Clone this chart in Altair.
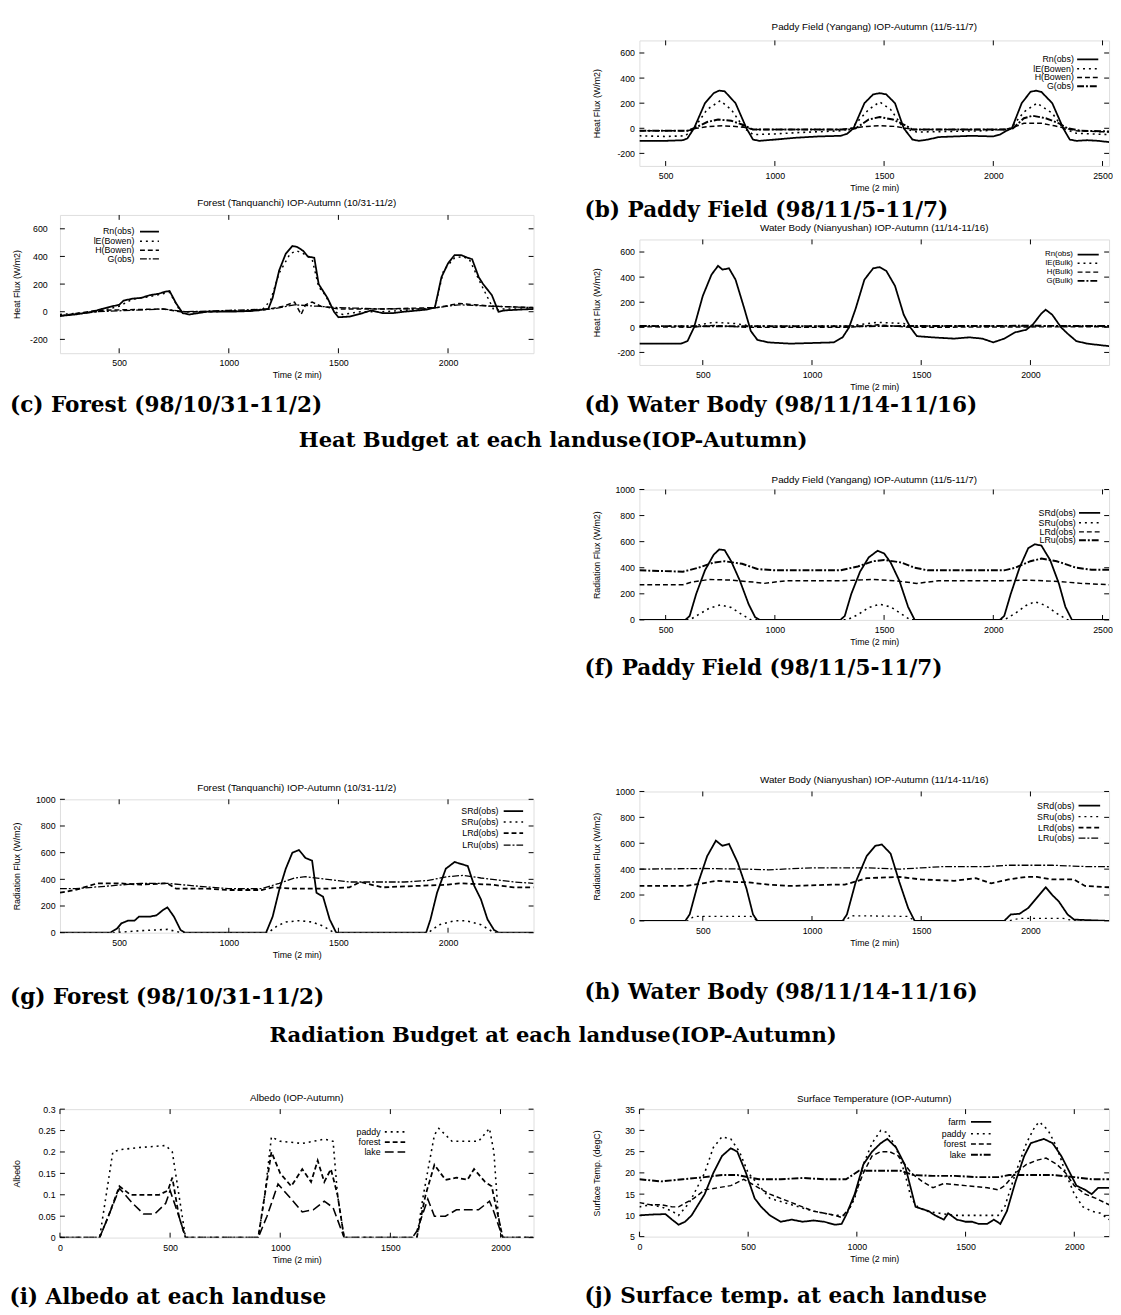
import altair as alt
import pandas as pd

SANS = "Liberation Sans"
SERIF = "DejaVu Serif"
CAP = 22
SEC = 21.5

# ---------------- data ----------------
b_rn_t = [380, 500, 580, 600, 630, 680, 720, 745, 770, 820, 870, 900, 930, 1000, 1100, 1200, 1300, 1330, 1360, 1410, 1450, 1480, 1510, 1550, 1590, 1630, 1660, 1700, 1750, 1900, 2000, 2030, 2060, 2085, 2130, 2170, 2195, 2220, 2270, 2320, 2350, 2380, 2430, 2480, 2530]
b_rn_v = [-100, -100, -95, -80, 0, 200, 280, 300, 295, 200, 0, -90, -100, -90, -75, -65, -60, -45, 0, 200, 270, 280, 270, 200, 0, -90, -100, -90, -70, -60, -65, -50, -20, 0, 200, 290, 300, 290, 200, 0, -90, -100, -95, -100, -110]
b_le_t = [380, 500, 590, 630, 690, 750, 800, 860, 900, 1000, 1100, 1300, 1350, 1430, 1480, 1530, 1590, 1650, 1800, 1950, 2050, 2080, 2140, 2200, 2270, 2320, 2380, 2450, 2530]
b_le_v = [-60, -65, -60, 0, 150, 220, 150, 0, -50, -45, -35, -20, 0, 150, 210, 150, 0, -30, -25, -20, -10, 0, 130, 200, 120, 0, -40, -45, -50]
b_h_t = [380, 600, 640, 700, 760, 820, 870, 900, 1000, 1300, 1350, 1420, 1480, 1550, 1600, 1640, 1800, 2050, 2080, 2140, 2220, 2280, 2330, 2380, 2530]
b_h_v = [-20, -20, 0, 15, 20, 15, 5, -10, -10, -10, 0, 15, 20, 15, 0, -10, -10, -10, 0, 40, 40, 20, 0, -20, -30]
b_g_t = [380, 600, 630, 690, 740, 800, 850, 900, 1000, 1340, 1370, 1430, 1480, 1540, 1590, 1630, 1800, 2060, 2090, 2140, 2180, 2240, 2300, 2340, 2400, 2530]
b_g_v = [-20, -20, 0, 50, 70, 60, 30, -10, -10, -10, 0, 70, 90, 70, 30, -10, -10, -10, 0, 80, 100, 80, 40, 0, -20, -25]

c_rn_t = [230, 300, 380, 420, 470, 500, 520, 560, 600, 640, 680, 710, 730, 760, 790, 820, 900, 1000, 1100, 1180, 1200, 1230, 1260, 1290, 1310, 1340, 1360, 1390, 1410, 1430, 1450, 1480, 1500, 1550, 1600, 1650, 1700, 1750, 1800, 1900, 1940, 1970, 2000, 2030, 2060, 2090, 2110, 2140, 2160, 2200, 2230, 2260, 2390]
c_rn_v = [-30, -20, 0, 20, 40, 50, 80, 95, 100, 120, 130, 145, 150, 60, -10, -20, 0, 0, 5, 20, 100, 300, 420, 475, 470, 440, 400, 390, 200, 150, 100, 0, -40, -35, -15, 10, -10, -10, 0, 15, 30, 250, 350, 410, 410, 390, 380, 250, 200, 120, 0, 10, 20]
c_le_t = [230, 400, 500, 560, 640, 700, 730, 780, 900, 1150, 1190, 1230, 1280, 1310, 1340, 1380, 1410, 1440, 1480, 1520, 1600, 1700, 1800, 1940, 1980, 2030, 2070, 2100, 2150, 2210, 2250, 2390]
c_le_v = [-20, 0, 40, 90, 110, 130, 140, 0, 0, 10, 80, 280, 420, 440, 420, 380, 180, 120, 0, -20, 0, 0, 10, 30, 300, 390, 400, 370, 200, 10, 20, 20]
c_h_t = [230, 400, 700, 780, 900, 1150, 1250, 1300, 1330, 1350, 1380, 1420, 1500, 1700, 1950, 2050, 2200, 2390]
c_h_v = [-30, 10, 20, 0, 0, 10, 40, 70, -20, 50, 70, 40, 20, 20, 30, 60, 40, 30]
c_g_t = [230, 400, 700, 800, 1000, 1200, 1300, 1400, 1500, 1700, 1900, 2050, 2200, 2390]
c_g_v = [-30, 0, 20, 0, 10, 20, 50, 40, 30, 20, 20, 50, 40, 30]

d_rn_t = [210, 400, 430, 460, 500, 540, 570, 590, 620, 650, 690, 720, 750, 800, 900, 1000, 1100, 1140, 1170, 1200, 1240, 1280, 1310, 1340, 1380, 1420, 1450, 1480, 1550, 1650, 1720, 1780, 1830, 1880, 1930, 1980, 2010, 2050, 2070, 2100, 2140, 2170, 2210, 2260, 2310, 2360]
d_rn_v = [-130, -130, -110, 0, 250, 420, 490, 460, 470, 380, 150, -30, -100, -120, -130, -125, -120, -80, 0, 150, 380, 470, 480, 450, 330, 100, 0, -70, -80, -90, -80, -90, -120, -90, -40, -20, 20, 110, 140, 100, 0, -50, -110, -130, -140, -150]
d_le_t = [210, 450, 550, 650, 720, 1170, 1300, 1420, 1450, 2360]
d_le_v = [10, 10, 40, 30, 10, 10, 40, 30, 10, 10]
d_h_t = [210, 450, 550, 700, 1170, 1300, 1450, 2360]
d_h_v = [5, 0, 15, 0, 0, 20, 0, 5]
d_g_t = [210, 800, 1500, 2000, 2360]
d_g_v = [10, 8, 10, 12, 10]

f_srd_t = [380, 590, 610, 640, 680, 720, 745, 770, 800, 840, 880, 910, 930, 1300, 1320, 1350, 1390, 1430, 1470, 1500, 1530, 1570, 1610, 1640, 2030, 2050, 2080, 2120, 2160, 2190, 2220, 2260, 2300, 2330, 2360, 2530]
f_srd_v = [0, 0, 30, 200, 380, 500, 540, 535, 450, 300, 120, 20, 0, 0, 30, 200, 370, 480, 530, 510, 440, 300, 100, 0, 0, 30, 200, 400, 550, 580, 570, 460, 280, 100, 0, 0]
f_sru_t = [380, 610, 650, 700, 750, 800, 850, 890, 1330, 1380, 1430, 1480, 1530, 1580, 1620, 2050, 2100, 2150, 2190, 2240, 2290, 2340, 2530]
f_sru_v = [0, 0, 40, 90, 115, 95, 40, 0, 0, 40, 95, 120, 100, 45, 0, 0, 50, 110, 140, 110, 50, 0, 0]
f_lrd_t = [380, 580, 620, 700, 800, 900, 950, 1050, 1300, 1450, 1550, 1650, 1750, 2050, 2150, 2300, 2400, 2530]
f_lrd_v = [270, 270, 290, 310, 305, 290, 280, 300, 300, 310, 300, 280, 300, 300, 305, 295, 280, 270]
f_lru_t = [380, 580, 650, 720, 770, 850, 920, 1000, 1300, 1380, 1450, 1500, 1580, 1640, 1700, 2050, 2100, 2170, 2220, 2290, 2380, 2450, 2530]
f_lru_v = [380, 370, 400, 440, 450, 430, 390, 380, 380, 410, 450, 460, 440, 400, 380, 380, 400, 450, 470, 450, 400, 385, 385]

g_srd_t = [230, 460, 490, 510, 540, 570, 590, 640, 670, 700, 720, 750, 780, 800, 1170, 1200, 1230, 1260, 1290, 1320, 1350, 1380, 1400, 1430, 1460, 1490, 1900, 1920, 1950, 1990, 2030, 2070, 2090, 2120, 2150, 2180, 2210, 2230, 2390]
g_srd_v = [0, 0, 30, 70, 90, 90, 120, 120, 130, 170, 190, 120, 20, 0, 0, 120, 320, 480, 600, 620, 560, 540, 300, 270, 100, 0, 0, 100, 300, 480, 530, 510, 500, 350, 250, 100, 20, 0, 0]
g_sru_t = [230, 480, 600, 720, 780, 1180, 1220, 1260, 1320, 1380, 1430, 1480, 1910, 1960, 2030, 2080, 2150, 2210, 2390]
g_sru_v = [0, 0, 15, 25, 0, 0, 50, 80, 90, 80, 50, 0, 0, 60, 90, 90, 60, 0, 0]
g_lrd_t = [230, 300, 400, 500, 600, 720, 760, 900, 1000, 1150, 1200, 1300, 1450, 1550, 1600, 1700, 1850, 2000, 2050, 2200, 2300, 2390]
g_lrd_v = [300, 320, 370, 370, 360, 370, 330, 330, 320, 320, 340, 330, 330, 340, 380, 340, 350, 360, 370, 360, 340, 340]
g_lru_t = [230, 300, 450, 600, 720, 850, 1000, 1150, 1230, 1300, 1350, 1450, 1550, 1650, 1800, 1900, 2000, 2070, 2150, 2300, 2390]
g_lru_v = [330, 330, 350, 370, 370, 350, 330, 330, 370, 410, 420, 400, 380, 380, 380, 390, 420, 430, 410, 380, 370]

h_srd_t = [210, 420, 440, 480, 520, 560, 590, 620, 660, 700, 730, 750, 1140, 1160, 1200, 1250, 1290, 1320, 1360, 1400, 1440, 1470, 1880, 1910, 1950, 1990, 2040, 2070, 2100, 2130, 2170, 2200, 2360]
h_srd_v = [0, 0, 50, 300, 500, 620, 580, 595, 450, 250, 50, 0, 0, 50, 300, 500, 580, 590, 520, 300, 100, 0, 0, 50, 55, 100, 200, 260, 200, 150, 50, 10, 0]
h_sru_t = [210, 430, 460, 720, 750, 1150, 1180, 1440, 1470, 1900, 1950, 2150, 2200, 2360]
h_sru_v = [0, 0, 35, 35, 0, 0, 40, 35, 0, 0, 20, 20, 0, 0]
h_lrd_t = [210, 420, 500, 560, 650, 700, 800, 900, 1100, 1150, 1250, 1400, 1500, 1650, 1750, 1820, 1900, 1980, 2030, 2100, 2200, 2250, 2360]
h_lrd_v = [270, 270, 290, 310, 300, 300, 280, 270, 280, 280, 330, 340, 320, 310, 330, 290, 320, 340, 340, 320, 320, 270, 260]
h_lru_t = [210, 500, 700, 800, 1000, 1250, 1400, 1500, 1600, 1800, 1900, 2100, 2250, 2360]
h_lru_v = [400, 405, 400, 395, 410, 410, 400, 410, 420, 420, 430, 430, 420, 420]

i_paddy_t = [0, 180, 210, 240, 270, 350, 480, 510, 540, 570, 900, 930, 960, 1000, 1100, 1200, 1240, 1260, 1290, 1620, 1650, 1700, 1720, 1780, 1900, 1950, 1970, 1990, 2010, 2150]
i_paddy_v = [0, 0, 0.1, 0.2, 0.205, 0.21, 0.215, 0.2, 0.1, 0, 0, 0.1, 0.235, 0.225, 0.22, 0.23, 0.225, 0.1, 0, 0, 0.1, 0.24, 0.255, 0.225, 0.225, 0.255, 0.2, 0.05, 0, 0]
i_forest_t = [0, 180, 220, 270, 320, 450, 490, 510, 540, 570, 900, 930, 960, 1000, 1050, 1100, 1140, 1170, 1200, 1230, 1260, 1290, 1620, 1660, 1700, 1750, 1800, 1850, 1880, 1930, 1960, 2010, 2150]
i_forest_v = [0, 0, 0.05, 0.12, 0.1, 0.1, 0.11, 0.14, 0.05, 0, 0, 0.1, 0.2, 0.15, 0.12, 0.16, 0.13, 0.18, 0.13, 0.16, 0.1, 0, 0, 0.1, 0.17, 0.135, 0.14, 0.135, 0.16, 0.13, 0.12, 0, 0]
i_lake_t = [0, 180, 220, 270, 330, 380, 430, 480, 500, 540, 570, 900, 940, 990, 1050, 1100, 1150, 1200, 1240, 1290, 1600, 1620, 1670, 1700, 1750, 1800, 1900, 1950, 1970, 2010, 2150]
i_lake_v = [0, 0, 0.05, 0.115, 0.08, 0.055, 0.055, 0.08, 0.11, 0.05, 0, 0, 0.05, 0.125, 0.09, 0.06, 0.065, 0.085, 0.07, 0, 0, 0.015, 0.09, 0.05, 0.05, 0.065, 0.065, 0.085, 0.06, 0, 0]

j_farm_t = [0, 60, 120, 150, 180, 210, 240, 300, 340, 380, 420, 450, 490, 530, 560, 600, 650, 700, 750, 800, 850, 900, 930, 950, 990, 1030, 1070, 1110, 1140, 1180, 1220, 1250, 1270, 1300, 1330, 1360, 1400, 1420, 1460, 1500, 1530, 1560, 1600, 1630, 1660, 1690, 1730, 1770, 1800, 1860, 1900, 1940, 1980, 2010, 2050, 2080, 2110, 2160]
j_farm_v = [10, 10.2, 10.3, 9, 7.8, 8.5, 10, 15, 20, 24, 25.8, 25, 20, 14, 12, 10, 8.5, 9, 8.5, 8.8, 8.5, 7.8, 8, 10, 15, 22, 25, 27, 28, 26, 22, 16, 12, 11.5, 11, 10, 9, 10.5, 9, 8.5, 8.5, 8, 8, 9, 8, 11, 18, 24, 27, 28, 27, 24, 20, 17, 16, 15, 16.5, 16.5]
j_paddy_t = [0, 50, 100, 150, 180, 230, 300, 340, 380, 420, 460, 500, 550, 600, 700, 800, 900, 950, 990, 1030, 1070, 1110, 1140, 1180, 1220, 1250, 1280, 1320, 1380, 1450, 1550, 1650, 1680, 1730, 1780, 1820, 1840, 1880, 1920, 1960, 2000, 2040, 2080, 2120, 2160]
j_paddy_v = [12, 12.5, 12, 11, 10, 13, 20, 26, 28.5, 28, 25, 20, 17, 14, 12.5, 11, 10, 10, 14, 22, 27, 30, 29.5, 26, 20, 14, 12, 11, 10.5, 10, 10, 10, 12, 20, 27, 31, 32, 30, 26, 20, 15, 12, 11, 10.5, 9]
j_forest_t = [0, 50, 100, 150, 180, 250, 300, 360, 420, 480, 530, 600, 700, 800, 900, 930, 970, 1030, 1070, 1110, 1150, 1190, 1250, 1300, 1350, 1400, 1500, 1600, 1650, 1680, 1730, 1780, 1830, 1870, 1920, 1960, 2000, 2050, 2100, 2160]
j_forest_v = [13, 12.5, 12.5, 12, 12, 14, 16, 16.5, 17, 18.5, 17, 15, 13, 11, 10, 9.5, 12, 20, 24, 25, 25, 24, 20, 18, 16.5, 17.5, 17, 16.5, 16, 17, 20, 22, 23, 23.5, 22, 20, 17, 15, 14, 12.5]
j_lake_t = [0, 100, 200, 300, 380, 450, 550, 650, 750, 850, 950, 1010, 1100, 1200, 1260, 1350, 1450, 1550, 1650, 1700, 1800, 1900, 2000, 2080, 2160]
j_lake_v = [18.5, 18, 18.5, 19, 19.5, 19.5, 18.5, 18.5, 18.8, 18.5, 18.5, 20.5, 20.5, 20.5, 19.5, 19.3, 19.3, 19, 19, 19.5, 19.5, 19.5, 19, 18.5, 18.5]

x_ticks_paddy = [500, 1000, 1500, 2000, 2500]
x_ticks_site = [500, 1000, 1500, 2000]
x_ticks_all = [0, 500, 1000, 1500, 2000]
y_ticks_heat = [-200, 0, 200, 400, 600]
y_ticks_rad = [0, 200, 400, 600, 800, 1000]
y_ticks_alb = [0, 0.05, 0.1, 0.15, 0.2, 0.25, 0.3]
y_ticks_tmp = [5, 10, 15, 20, 25, 30, 35]

heat_b_names = ["Rn(obs)", "lE(Bowen)", "H(Bowen)", "G(obs)"]
heat_d_names = ["Rn(obs)", "lE(Bulk)", "H(Bulk)", "G(Bulk)"]
rad_names = ["SRd(obs)", "SRu(obs)", "LRd(obs)", "LRu(obs)"]
alb_names = ["paddy", "forest", "lake"]
tmp_names = ["farm", "paddy", "forest", "lake"]

sec_heat = "Heat Budget at each landuse(IOP-Autumn)"
sec_rad = "Radiation Budget at each landuse(IOP-Autumn)"

SOLID = [1, 0]
DOT = [2, 4]
DASH = [5, 3]
DASHDOT = [7, 2, 2, 2]
LONG = [9, 4]


def panel(p):
    W, H = p["w"], p["h"]
    xs = alt.Scale(domain=p["xdom"], nice=False, zero=False)
    ys = alt.Scale(domain=p["ydom"], nice=False, zero=False)
    xaxis = alt.Axis(values=p["xt"], title="Time (2 min)", labelExpr="'' + datum.value",
                     labelPadding=6, titlePadding=3, labelFlush=False, labelOverlap=False,
                     ticks=False, domain=False, grid=False,
                     labelFont=SANS, labelFontSize=9, labelColor="black",
                     titleFont=SANS, titleFontSize=9, titleFontWeight="normal", titleColor="black")
    yaxis = alt.Axis(values=p["yt"], title=p["ytitle"], labelExpr="'' + datum.value",
                     labelPadding=p.get("lpad", 5), titlePadding=p["tpad"], labelFlush=False,
                     labelOverlap=False, ticks=False, domain=False, grid=False,
                     labelFont=SANS, labelFontSize=9, labelColor="black",
                     titleFont=SANS, titleFontSize=9, titleFontWeight="normal", titleColor="black")
    X = lambda f: alt.X(f, scale=xs, axis=xaxis)
    Y = lambda f: alt.Y(f, scale=ys, axis=yaxis)
    layers = []
    for k, (t, v, dash, sw) in enumerate(p["series"]):
        df = pd.DataFrame({"t": t, "v": v})
        layers.append(
            alt.Chart(df).mark_line(clip=True, color="black", strokeWidth=sw, strokeDash=dash).encode(
                x=X("t:Q"), y=Y("v:Q"), order="t:Q")
        )
    dx = pd.DataFrame({"t": p["xt"]})
    dy = pd.DataFrame({"v": p["yt"]})
    L = 5
    layers.append(alt.Chart(dx).mark_rule(color="black", strokeWidth=1).encode(
        x=X("t:Q"), y=alt.value(H), y2=alt.value(H - L)))
    layers.append(alt.Chart(dx).mark_rule(color="black", strokeWidth=1).encode(
        x=X("t:Q"), y=alt.value(0), y2=alt.value(L)))
    layers.append(alt.Chart(dy).mark_rule(color="black", strokeWidth=1).encode(
        y=Y("v:Q"), x=alt.value(0), x2=alt.value(L)))
    layers.append(alt.Chart(dy).mark_rule(color="black", strokeWidth=1).encode(
        y=Y("v:Q"), x=alt.value(W - L), x2=alt.value(W)))
    layers.append(alt.Chart(pd.DataFrame({"s": [p["title"]]})).mark_text(
        font=SANS, fontSize=10, color="black", align="center", baseline="middle").encode(
        text="s:N", x=alt.value(W / 2), y=alt.value(-p["tdy"])))
    ft, l1, l2 = p["key_x"]
    for k, name in enumerate(p["names"]):
        yy = p["key_rows"][k] * H
        dash, sw = p["series"][k][2], p["series"][k][3]
        dn = pd.DataFrame({"s": [name]})
        layers.append(alt.Chart(dn).mark_text(
            font=SANS, fontSize=p.get("kfs", 9), color="black", align="right", baseline="middle").encode(
            text="s:N", x=alt.value(ft * W), y=alt.value(yy)))
        layers.append(alt.Chart(dn).mark_rule(color="black", strokeWidth=sw, strokeDash=dash).encode(
            x=alt.value(l1 * W), x2=alt.value(l2 * W), y=alt.value(yy)))
    return alt.layer(*layers).properties(
        width=W, height=H,
        title=alt.TitleParams(text=p["cap"], orient="bottom", anchor="start", frame="bounds",
                              font=SERIF, fontSize=CAP, fontWeight="bold", color="black",
                              offset=p["capoff"], dx=p.get("capdx", -3)),
    )


def spacer(h, w=100):
    return alt.Chart(pd.DataFrame({"s": [""]})).mark_text().encode(text="s:N").properties(
        width=w, height=h, view=alt.ViewBackground(stroke="transparent"))


def section(text, h, ty):
    return alt.Chart(pd.DataFrame({"s": [text]})).mark_text(
        font=SERIF, fontSize=SEC, fontWeight="bold", color="black", align="center", baseline="middle"
    ).encode(text="s:N", x=alt.value(503), y=alt.value(ty)).properties(
        width=1000, height=h, view=alt.ViewBackground(stroke="transparent"))


WL, WR = 483, 479

pb = panel(dict(w=WR, h=128, xdom=[380, 2530], ydom=[-300, 700], xt=x_ticks_paddy, yt=y_ticks_heat,
                ytitle="Heat Flux (W/m2)", tpad=16, tdy=14, capdx=-8,
                series=[(b_rn_t, b_rn_v, SOLID, 1.8), (b_le_t, b_le_v, DOT, 1.6),
                        (b_h_t, b_h_v, DASH, 1.5), (b_g_t, b_g_v, DASHDOT, 2.0)],
                names=heat_b_names, key_x=(0.925, 0.932, 0.977), key_rows=[0.15, 0.225, 0.295, 0.365],
                title="Paddy Field (Yangang) IOP-Autumn (11/5-11/7)",
                cap="(b) Paddy Field (98/11/5-11/7)", capoff=8))

pc = panel(dict(w=WL, h=141, xdom=[230, 2390], ydom=[-300, 700], xt=x_ticks_site, yt=y_ticks_heat,
                ytitle="Heat Flux (W/m2)", lpad=13, tpad=8, tdy=12,
                series=[(c_rn_t, c_rn_v, SOLID, 1.8), (c_le_t, c_le_v, DOT, 1.5),
                        (c_h_t, c_h_v, DASH, 1.5), (c_g_t, c_g_v, DASHDOT, 1.3)],
                names=heat_b_names, key_x=(0.157, 0.169, 0.209), key_rows=[0.12, 0.19, 0.256, 0.318],
                title="Forest (Tanquanchi) IOP-Autumn (10/31-11/2)",
                cap="(c) Forest (98/10/31-11/2)", capoff=16))

pd_ = panel(dict(w=WR, h=128, xdom=[210, 2360], ydom=[-300, 700], xt=x_ticks_site, yt=y_ticks_heat,
                 ytitle="Heat Flux (W/m2)", tpad=16, tdy=12, kfs=8, capdx=-8,
                 series=[(d_rn_t, d_rn_v, SOLID, 1.8), (d_le_t, d_le_v, DOT, 1.5),
                         (d_h_t, d_h_v, DASH, 1.4), (d_g_t, d_g_v, DASHDOT, 2.0)],
                 names=heat_d_names, key_x=(0.923, 0.933, 0.978), key_rows=[0.12, 0.19, 0.26, 0.33],
                 title="Water Body (Nianyushan) IOP-Autumn (11/14-11/16)",
                 cap="(d) Water Body (98/11/14-11/16)", capoff=4))

pf = panel(dict(w=WR, h=133, xdom=[380, 2530], ydom=[0, 1000], xt=x_ticks_paddy, yt=y_ticks_rad,
                ytitle="Radiation Flux (W/m2)", tpad=14, tdy=10, capdx=-8,
                series=[(f_srd_t, f_srd_v, SOLID, 1.8), (f_sru_t, f_sru_v, DOT, 1.6),
                        (f_lrd_t, f_lrd_v, DASH, 1.5), (f_lru_t, f_lru_v, DASHDOT, 2.0)],
                names=rad_names, key_x=(0.929, 0.936, 0.981), key_rows=[0.18, 0.255, 0.325, 0.39],
                title="Paddy Field (Yangang) IOP-Autumn (11/5-11/7)",
                cap="(f) Paddy Field (98/11/5-11/7)", capoff=12))

pg = panel(dict(w=WL, h=136, xdom=[230, 2390], ydom=[0, 1000], xt=x_ticks_site, yt=y_ticks_rad,
                ytitle="Radiation Flux (W/m2)", tpad=14, tdy=11,
                series=[(g_srd_t, g_srd_v, SOLID, 1.8), (g_sru_t, g_sru_v, DOT, 1.6),
                        (g_lrd_t, g_lrd_v, DASH, 1.8), (g_lru_t, g_lru_v, DASHDOT, 1.3)],
                names=rad_names, key_x=(0.926, 0.937, 0.978), key_rows=[0.089, 0.17, 0.254, 0.344],
                title="Forest (Tanquanchi) IOP-Autumn (10/31-11/2)",
                cap="(g) Forest (98/10/31-11/2)", capoff=29))

ph = panel(dict(w=WR, h=132, xdom=[210, 2360], ydom=[0, 1000], xt=x_ticks_site, yt=y_ticks_rad,
                ytitle="Radiation Flux (W/m2)", tpad=14, tdy=12, capdx=-8,
                series=[(h_srd_t, h_srd_v, SOLID, 1.8), (h_sru_t, h_sru_v, DOT, 1.3),
                        (h_lrd_t, h_lrd_v, DASH, 1.8), (h_lru_t, h_lru_v, DASHDOT, 1.3)],
                names=rad_names, key_x=(0.926, 0.935, 0.981), key_rows=[0.11, 0.195, 0.28, 0.36],
                title="Water Body (Nianyushan) IOP-Autumn (11/14-11/16)",
                cap="(h) Water Body (98/11/14-11/16)", capoff=36))

pi = panel(dict(w=WL, h=131, xdom=[0, 2150], ydom=[0, 0.3], xt=x_ticks_all, yt=y_ticks_alb,
                ytitle="Albedo", tpad=17, tdy=11,
                series=[(i_paddy_t, i_paddy_v, DOT, 1.6), (i_forest_t, i_forest_v, DASH, 1.8),
                        (i_lake_t, i_lake_v, LONG, 1.6)],
                names=alb_names, key_x=(0.677, 0.686, 0.729), key_rows=[0.177, 0.257, 0.333],
                title="Albedo (IOP-Autumn)",
                cap="(i) Albedo at each landuse", capoff=24))

pj = panel(dict(w=WR, h=130, xdom=[0, 2160], ydom=[5, 35], xt=x_ticks_all, yt=y_ticks_tmp,
                ytitle="Surface Temp. (degC)", tpad=24, tdy=10, capdx=-8,
                series=[(j_farm_t, j_farm_v, SOLID, 1.8), (j_paddy_t, j_paddy_v, DOT, 1.6),
                        (j_forest_t, j_forest_v, DASH, 1.5), (j_lake_t, j_lake_v, DASHDOT, 2.0)],
                names=tmp_names, key_x=(0.695, 0.706, 0.749), key_rows=[0.1, 0.193, 0.273, 0.357],
                title="Surface Temperature (IOP-Autumn)",
                cap="(j) Surface temp. at each landuse", capoff=24))

L1 = alt.vconcat(spacer(154), pc, spacing=5)
R1 = alt.vconcat(pb, pd_, spacing=0)
block1 = alt.hconcat(L1, R1, spacing=50)

L2 = alt.vconcat(spacer(293), pg, spacing=5)
R2 = alt.vconcat(pf, ph, spacing=96)
block2 = alt.hconcat(L2, R2, spacing=50)

block3 = alt.hconcat(pi, pj, spacing=50)

chart = alt.vconcat(
    block1, section(sec_heat, 56, 24), block2, section(sec_rad, 83, 26), block3,
    spacing=0
).properties(padding=0).configure_view(
    stroke="black", strokeWidth=1.3
).configure(background="white")

chart.save("out.html", embed_options={"renderer": "svg", "actions": False})
